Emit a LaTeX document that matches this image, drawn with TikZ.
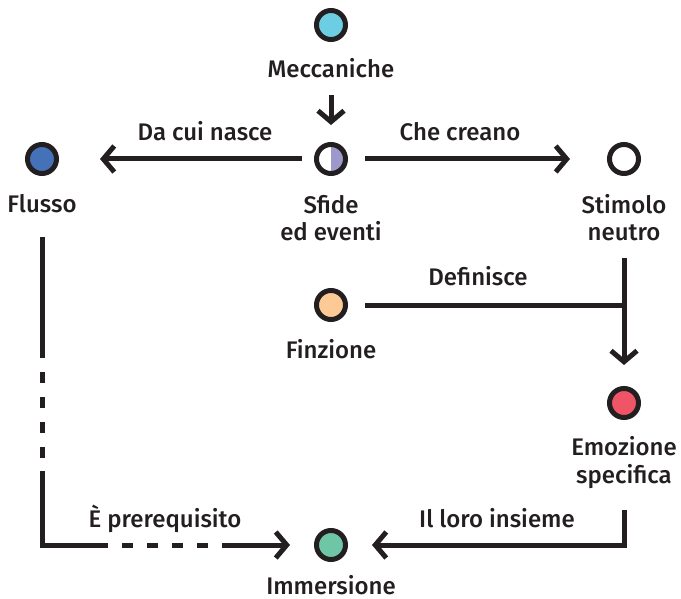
\documentclass[tikz,border=0pt]{standalone}
\usepackage{fontspec}
\setmainfont{Fira Sans}[UprightFont=* Medium]
\usetikzlibrary{arrows.meta}

\definecolor{ink}{HTML}{231F20}
\definecolor{cyanfill}{HTML}{6DCDE2}
\definecolor{bluefill}{HTML}{4571B9}
\definecolor{lavfill}{HTML}{9D9ACB}
\definecolor{peachfill}{HTML}{FDCA96}
\definecolor{redfill}{HTML}{EF5566}
\definecolor{greenfill}{HTML}{6FC6A6}

\begin{document}
\begin{tikzpicture}[x=1pt, y=-1pt,
  dot/.style={circle, draw=ink, line width=5pt, minimum size=29pt, inner sep=0pt, fill=#1},
  lbl/.style={anchor=base, text=ink, font=\fontsize{24}{28}\selectfont, inner sep=0pt, align=center},
  link/.style={draw=ink, line width=5pt},
  arr/.style={link, -{Straight Barb[length=11pt, width=26pt]}},
]
\path[use as bounding box] (0,0) rectangle (681,599);

% circles (border anchors lie 17pt from the centre)
\node[dot=cyanfill]  (mec)   at (331,25)  {};
\node[dot=white, path picture={\fill[lavfill] (path picture bounding box.north) rectangle (path picture bounding box.south east);}] (sfide) at (331,159) {};
\node[dot=bluefill]  (flu)   at (42,159)  {};
\node[dot=white]     (sti)   at (624,159) {};
\node[dot=peachfill] (fin)   at (331,305) {};
\node[dot=redfill]   (emo)   at (624,403) {};
\node[dot=greenfill] (imm)   at (331,545) {};

% node labels (base anchor = last line)
\node[lbl] (mecl)   at (331,78)  {Meccaniche};
\node[lbl] (flul)   at (42,213)  {Flusso};
\node[lbl] (sfidel) at (331,241) {Sfide\\ed eventi};
\node[lbl] (stil)   at (624,241) {Stimolo\\neutro};
\node[lbl] (finl)   at (331,358) {Finzione};
\node[lbl] (emol)   at (624,483) {Emozione\\specifica};
\node[lbl] (imml)   at (331,594) {Immersione};

% connector labels
\node[lbl] (l1) at (205,141) {Da cui nasce};
\node[lbl] (l2) at (460,141) {Che creano};
\node[lbl] (l3) at (478,286) {Definisce};
\node[lbl] (l4) at (165,527) {È prerequisito};
\node[lbl] (l5) at (497,527) {Il loro insieme};

% connectors
\draw[arr, shorten <=53pt, shorten >=17pt] (mec) -- (sfide);
\draw[arr, shorten <=12pt, shorten >=41pt] (sfide) -- (flu);
\draw[arr, shorten <=17pt, shorten >=37pt] (sfide) -- (sti);
\draw[arr, shorten <=82pt, shorten >=21pt] (sti) -- (emo);
\draw[link, shorten <=17pt] (fin) -- (sti |- fin);
\draw[arr, shorten <=61pt, shorten >=24pt,
  dash pattern=on 121pt off 14pt on 11pt off 14pt on 11pt off 14pt on 11pt off 14pt on 11pt off 13pt
               on 140pt off 14pt on 11pt off 14pt on 11pt off 14pt on 11pt off 14pt on 11pt off 14pt on 200pt]
  (flu) |- (imm);
\draw[arr, shorten <=90pt, shorten >=24pt] (emo) |- (imm);
\end{tikzpicture}
\end{document}
